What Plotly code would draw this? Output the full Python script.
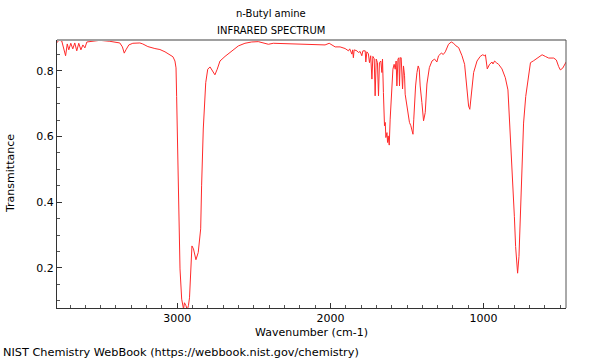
import plotly.graph_objects as go

# Wavenumber (cm-1) and transmittance
wavenumber = [
    3784, 3773, 3754, 3740, 3729, 3718, 3708, 3695, 3682, 3669, 3656, 3643, 3629, 3616, 3603, 3590,
    3557, 3505, 3440, 3375, 3358, 3346, 3335, 3316, 3290, 3244, 3225, 3192, 3146, 3113, 3080, 3061,
    3041, 3028, 3015, 3008, 3004, 3000, 2993, 2982, 2971, 2965, 2959, 2953, 2943, 2935, 2927, 2920,
    2912, 2904, 2894, 2878, 2863, 2847, 2841, 2830, 2814, 2801, 2786, 2769, 2754, 2739, 2721, 2688,
    2644, 2601, 2558, 2514, 2471, 2438, 2405, 2373, 2252, 2146, 2035, 2008, 1991, 1969, 1937, 1904,
    1882, 1874, 1860, 1855, 1850, 1845, 1827, 1817, 1806, 1795, 1788, 1773, 1769, 1762, 1752, 1745,
    1737, 1729, 1723, 1714, 1708, 1701, 1693, 1686, 1680, 1671, 1664, 1660, 1654, 1647, 1642, 1638,
    1631, 1627, 1623, 1616, 1610, 1599, 1592, 1584, 1577, 1571, 1566, 1559, 1553, 1549, 1544, 1538,
    1533, 1529, 1523, 1516, 1512, 1505, 1497, 1484, 1475, 1468, 1461, 1456, 1451, 1444, 1435, 1427,
    1420, 1414, 1403, 1392, 1381, 1370, 1354, 1337, 1320, 1305, 1294, 1276, 1263, 1250, 1229, 1211,
    1196, 1180, 1163, 1141, 1124, 1108, 1098, 1090, 1080, 1065, 1043, 1022, 1006, 993, 988, 976,
    961, 945, 939, 928, 917, 902, 880, 858, 841, 830, 819, 808, 799, 791, 782, 778,
    769, 760, 749, 739, 725, 712, 694, 673, 651, 618, 597, 575, 542, 525, 510, 499,
    484, 466, 460,
]
transmittance = [
    0.886, 0.894, 0.891, 0.870, 0.846, 0.882, 0.864, 0.884, 0.867, 0.885, 0.861, 0.884, 0.864, 0.879, 0.870, 0.888,
    0.890, 0.893, 0.890, 0.885, 0.873, 0.854, 0.864, 0.879, 0.884, 0.885, 0.882, 0.874, 0.868, 0.865, 0.858, 0.853,
    0.847, 0.843, 0.830, 0.809, 0.722, 0.602, 0.399, 0.197, 0.105, 0.085, 0.075, 0.094, 0.085, 0.072, 0.085, 0.109,
    0.176, 0.267, 0.258, 0.225, 0.247, 0.319, 0.450, 0.623, 0.764, 0.805, 0.812, 0.797, 0.788, 0.805, 0.830, 0.844,
    0.861, 0.876, 0.884, 0.888, 0.889, 0.884, 0.881, 0.884, 0.882, 0.879, 0.879, 0.884, 0.878, 0.873, 0.873, 0.868,
    0.861, 0.867, 0.851, 0.864, 0.840, 0.864, 0.861, 0.856, 0.859, 0.846, 0.861, 0.861, 0.827, 0.858, 0.852, 0.825,
    0.846, 0.775, 0.844, 0.837, 0.724, 0.836, 0.825, 0.724, 0.825, 0.830, 0.795, 0.836, 0.734, 0.633, 0.643, 0.597,
    0.612, 0.582, 0.602, 0.574, 0.653, 0.734, 0.805, 0.820, 0.805, 0.830, 0.754, 0.836, 0.840, 0.754, 0.840, 0.840,
    0.805, 0.745, 0.815, 0.785, 0.729, 0.704, 0.673, 0.643, 0.633, 0.617, 0.607, 0.651, 0.704, 0.754, 0.795, 0.815,
    0.805, 0.754, 0.704, 0.648, 0.673, 0.760, 0.810, 0.830, 0.836, 0.827, 0.846, 0.854, 0.850, 0.858, 0.881, 0.888,
    0.884, 0.876, 0.871, 0.846, 0.820, 0.754, 0.693, 0.683, 0.724, 0.795, 0.830, 0.844, 0.849, 0.846, 0.849, 0.806,
    0.820, 0.827, 0.821, 0.830, 0.825, 0.820, 0.806, 0.779, 0.742, 0.641, 0.570, 0.468, 0.356, 0.265, 0.194, 0.184,
    0.235, 0.356, 0.519, 0.641, 0.722, 0.773, 0.825, 0.831, 0.839, 0.849, 0.844, 0.839, 0.839, 0.833, 0.813, 0.803,
    0.808, 0.825, 0.828,
]

x_ticks = [3000, 2000, 1000]
y_ticks = [0.2, 0.4, 0.6, 0.8]

FONT = "DejaVu Sans"

fig = go.Figure()
fig.add_trace(go.Scatter(
    x=wavenumber, y=transmittance, mode="lines",
    line=dict(color="#ff2a2a", width=1), hoverinfo="skip", showlegend=False,
))

fig.update_layout(
    width=600, height=360,
    margin=dict(l=57, r=34, t=40, b=52),
    paper_bgcolor="white", plot_bgcolor="white",
    font=dict(family=FONT, size=11, color="black"),
    showlegend=False,
    xaxis=dict(
        range=[3785, 462], showgrid=False, zeroline=False,
        showline=True, linecolor="#333333", linewidth=1,
        ticks="inside", ticklen=5, tickcolor="#333333",
        tickvals=x_ticks, ticktext=[str(v) for v in x_ticks],
        minor=dict(dtick=100, tick0=0, ticks="inside", ticklen=3, tickcolor="#555555"),
        tickfont=dict(family=FONT, size=11),
    ),
    yaxis=dict(
        range=[0.078, 0.894], showgrid=False, zeroline=False,
        showline=True, linecolor="#333333", linewidth=1,
        ticks="inside", ticklen=5, tickcolor="#333333",
        tickvals=y_ticks, ticktext=[f"{v:.1f}" for v in y_ticks],
        minor=dict(dtick=0.05, tick0=0, ticks="inside", ticklen=3, tickcolor="#555555"),
        tickfont=dict(family=FONT, size=11),
    ),
    shapes=[
        dict(type="line", xref="paper", yref="paper", x0=0, x1=1, y0=1, y1=1,
             line=dict(color="#a0a0a0", width=2)),
        dict(type="line", xref="paper", yref="paper", x0=1, x1=1, y0=0, y1=1,
             line=dict(color="#555555", width=1)),
    ],
    annotations=[
        dict(text="n-Butyl amine", xref="paper", yref="paper", x=0.42, y=1, yshift=27,
             showarrow=False, xanchor="center", yanchor="middle", font=dict(size=10)),
        dict(text="INFRARED SPECTRUM", xref="paper", yref="paper", x=0.42, y=1, yshift=10,
             showarrow=False, xanchor="center", yanchor="middle", font=dict(size=10)),
        dict(text="Wavenumber (cm-1)", xref="paper", yref="paper", x=0.5, y=0, yshift=-24,
             showarrow=False, xanchor="center", yanchor="middle", font=dict(size=11)),
        dict(text="Transmittance", xref="paper", yref="paper", x=0, xshift=-47, y=0.5,
             textangle=-90, showarrow=False, xanchor="center", yanchor="middle", font=dict(size=11)),
        dict(text="NIST Chemistry WebBook (https://webbook.nist.gov/chemistry)", xref="paper", yref="paper",
             x=0, xshift=-56, y=0, yshift=-44, showarrow=False, xanchor="left", yanchor="middle",
             font=dict(size=11.3)),
    ],
)

fig.write_html(
    "out.html",
    config={"displayModeBar": False},
    post_script="document.body.style.margin='0px';document.body.style.padding='0px';",
)
